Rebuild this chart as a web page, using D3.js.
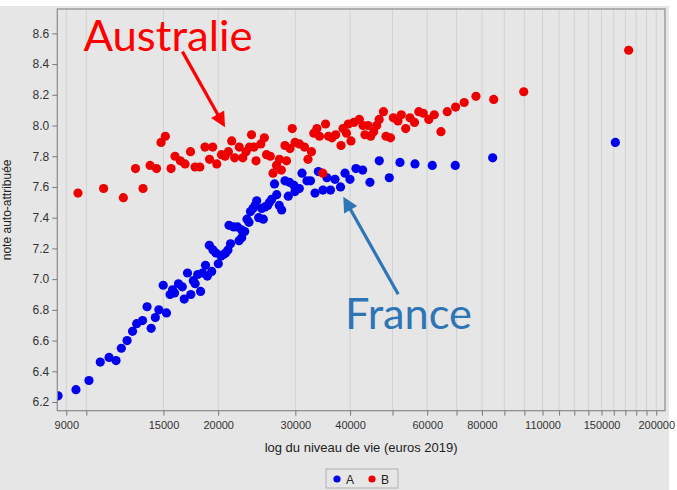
<!DOCTYPE html>
<html><head><meta charset="utf-8">
<script src="https://cdn.jsdelivr.net/npm/d3@7"></script>
<style>body{margin:0;background:#fff}svg{display:block}</style>
</head><body>
<svg id="chart" width="677" height="490"></svg>
<script>
// Series A (France, blue): [income (euros 2019), self-rated score]
const seriesA = [[8620,6.24],[9470,6.28],[10140,6.34],[10760,6.46],[11270,6.49],[11690,6.47],[12020,6.55],[12390,6.60],[12750,6.66],[13030,6.71],[13440,6.73],[13760,6.82],[14060,6.68],[14370,6.75],[14640,6.80],[14980,6.96],[15240,6.78],[15530,6.90],[15730,6.93],[15900,6.91],[16230,6.97],[16560,6.95],[16730,6.87],[17020,7.04],[17320,6.90],[17550,6.99],[17720,6.97],[17960,7.03],[18230,6.92],[18420,7.04],[18710,7.09],[18890,7.02],[19330,7.05],[19090,7.22],[19460,7.19],[19770,7.17],[20010,7.10],[20300,7.15],[20570,7.16],[20780,7.17],[21050,7.19],[21170,7.35],[21340,7.23],[21700,7.34],[22140,7.34],[22310,7.25],[22630,7.27],[22630,7.32],[22990,7.31],[23270,7.39],[23510,7.37],[23700,7.44],[24010,7.46],[24270,7.48],[24490,7.51],[24740,7.40],[25140,7.46],[25350,7.39],[25580,7.47],[25940,7.48],[26190,7.50],[26500,7.52],[26890,7.62],[27200,7.55],[27570,7.48],[27920,7.45],[28410,7.64],[28910,7.54],[29090,7.63],[29790,7.61],[29950,7.57],[30630,7.59],[31070,7.69],[31890,7.64],[32490,7.64],[33270,7.56],[33850,7.70],[34690,7.58],[35430,7.66],[36090,7.58],[36950,7.65],[38040,7.60],[38950,7.69],[39980,7.65],[41260,7.72],[42740,7.71],[44410,7.63],[46640,7.77],[49160,7.66],[52000,7.76],[56260,7.75],[61620,7.74],[69540,7.74],[84640,7.79],[161300,7.89]];
// Series B (Australie, red)
const seriesB = [[9570,7.56],[10950,7.59],[12150,7.53],[12950,7.72],[13470,7.59],[13980,7.74],[14460,7.72],[14810,7.89],[15150,7.93],[15610,7.72],[15940,7.80],[16390,7.77],[16800,7.75],[17290,7.83],[17710,7.73],[18160,7.73],[18660,7.86],[19110,7.78],[19430,7.86],[19850,7.75],[20350,7.81],[20730,7.80],[21100,7.83],[21470,7.90],[21810,7.79],[22340,7.86],[22760,7.79],[23150,7.83],[23580,7.86],[23830,7.94],[24140,7.86],[24400,7.77],[25020,7.88],[25490,7.92],[25780,7.81],[26300,7.80],[26680,7.69],[27170,7.74],[27600,7.78],[27870,7.71],[28410,7.87],[28640,7.77],[29170,7.85],[29520,7.98],[29950,7.89],[30660,7.88],[31480,7.86],[32060,7.78],[32660,7.83],[33060,7.95],[33610,7.98],[34060,7.93],[34660,7.69],[35160,8.01],[35710,7.93],[36370,7.92],[37090,7.94],[38140,7.87],[38540,7.98],[39250,7.95],[39630,8.01],[40190,7.90],[40790,8.02],[41990,8.04],[42810,8.00],[43260,7.94],[43950,8.00],[44580,7.93],[45290,7.96],[46010,8.00],[46610,8.04],[47680,8.09],[48310,7.93],[49470,7.92],[50210,8.05],[51460,8.03],[52360,8.07],[53580,7.98],[54800,8.05],[56120,8.02],[57400,8.09],[58780,8.08],[60500,8.04],[62270,8.07],[64500,7.96],[66670,8.09],[69660,8.12],[72870,8.15],[77530,8.19],[85090,8.17],[99660,8.22],[173000,8.49]];

const xTickValues = [9000,10000,15000,20000,30000,40000,50000,60000,70000,80000,90000,100000,110000,120000,130000,140000,150000,160000,170000,180000,190000,200000];
const xTickLabels = [9000,15000,20000,30000,40000,60000,80000,110000,150000,200000];
const yTickValues = [6.2,6.4,6.6,6.8,7.0,7.2,7.4,7.6,7.8,8.0,8.2,8.4,8.6];
const seriesNames = ["A","B"];
const seriesColors = ["#0000ee","#ee0000"];
const xTitle = "log du niveau de vie (euros 2019)";
const yTitle = "note auto-attribuée";
// annotations in data coordinates: label anchor and arrow (from -> tip)
const annLabels = [
  {text:"Australie", x:9854, y:8.487, color:"#ff0000", width:169},
  {text:"France", x:38950, y:6.673, color:"#2e75b6", width:127}
];
const annArrows = [
  {from:[16571,8.481], to:[20729,7.988], color:"#ff0000"},
  {from:[51522,6.901], to:[38600,7.537], color:"#2e75b6"}
];

const svg = d3.select("#chart");
const plot = {left:57.3, right:665, top:9, bottom:410.7};
const x = d3.scaleLog().domain([8585,209400]).range([plot.left, plot.right]);
const y = d3.scaleLinear().domain([6.1434,8.7586]).range([plot.bottom, plot.top]);
const font = "'Liberation Sans', Arial, sans-serif";

svg.append("rect").attr("x",0).attr("y",6).attr("width",669).attr("height",484).attr("fill","#e6e6e6");

// gridlines
svg.append("g").selectAll("line").data(xTickValues).join("line")
  .attr("x1",d=>x(d)).attr("x2",d=>x(d)).attr("y1",plot.top).attr("y2",plot.bottom)
  .attr("stroke","#d2d2d2").attr("stroke-width",1);

// clip
svg.append("clipPath").attr("id","clip").append("rect")
  .attr("x",plot.left).attr("y",plot.top).attr("width",plot.right-plot.left).attr("height",plot.bottom-plot.top);

const pts = svg.append("g").attr("clip-path","url(#clip)");
[seriesA, seriesB].forEach((s,i)=>{
  pts.append("g").selectAll("circle").data(s).join("circle")
    .attr("cx",d=>x(d[0])).attr("cy",d=>y(d[1])).attr("r",4.6)
    .attr("fill",seriesColors[i]);
});

// frame
svg.append("rect").attr("x",plot.left).attr("y",plot.top)
  .attr("width",plot.right-plot.left).attr("height",plot.bottom-plot.top)
  .attr("fill","none").attr("stroke","#8a8a8a").attr("stroke-width",1.2);

// axes
const xAxis = svg.append("g").attr("transform",`translate(0,${plot.bottom})`)
  .call(d3.axisBottom(x).tickValues(xTickValues).tickSize(5).tickSizeOuter(0)
    .tickFormat(d=>xTickLabels.includes(d)?String(d):""));
const yAxis = svg.append("g").attr("transform",`translate(${plot.left},0)`)
  .call(d3.axisLeft(y).tickValues(yTickValues).tickSize(5).tickSizeOuter(0)
    .tickFormat(d3.format(".1f")));
[xAxis,yAxis].forEach(g=>{
  g.select(".domain").remove();
  g.selectAll(".tick line").attr("stroke","#7a7a7a");
  g.selectAll(".tick text").attr("fill","#333").style("font-family",font);
});
xAxis.selectAll(".tick text").style("font-size","11px").attr("dy","0.95em");
yAxis.selectAll(".tick text").style("font-size","12px");

svg.append("text").attr("x",(plot.left+plot.right)/2).attr("y",452)
  .attr("text-anchor","middle").style("font-family",font).style("font-size","13px")
  .attr("fill","#222").text(xTitle);
svg.append("text").attr("transform",`translate(11,${(plot.top+plot.bottom)/2}) rotate(-90)`)
  .attr("text-anchor","middle").style("font-family",font).style("font-size","12px")
  .attr("fill","#222").text(yTitle);

// annotations
const defs = svg.append("defs");
annArrows.forEach((a,i)=>{
  const x1=x(a.from[0]), y1=y(a.from[1]), x2=x(a.to[0]), y2=y(a.to[1]);
  const ang=Math.atan2(y2-y1,x2-x1), L=15, Wd=7.5;
  const bx=x2-L*Math.cos(ang), by=y2-L*Math.sin(ang);
  svg.append("line").attr("x1",x1).attr("y1",y1).attr("x2",bx+2*Math.cos(ang)).attr("y2",by+2*Math.sin(ang))
    .attr("stroke",a.color).attr("stroke-width",3.2);
  const px=-Math.sin(ang), py=Math.cos(ang);
  svg.append("polygon").attr("points",[[x2,y2],[bx+px*Wd,by+py*Wd],[bx-px*Wd,by-py*Wd]].map(p=>p.join(",")).join(" "))
    .attr("fill",a.color);
});
annLabels.forEach(l=>{
  svg.append("text").attr("x",x(l.x)).attr("y",y(l.y))
    .style("font-family","Lato, 'Open Sans', sans-serif").style("font-size","42px")
    .attr("textLength",l.width).attr("lengthAdjust","spacingAndGlyphs")
    .attr("fill",l.color).text(l.text);
});

// legend
const lg = svg.append("g");
lg.append("rect").attr("x",326).attr("y",469).attr("width",72).attr("height",19)
  .attr("fill","#e6e6e6").attr("stroke","#b0b0b0");
seriesNames.forEach((n,i)=>{
  const cx = 337 + i*35;
  lg.append("circle").attr("cx",cx).attr("cy",479).attr("r",3.6).attr("fill",seriesColors[i]);
  lg.append("text").attr("x",cx+9).attr("y",483.5).style("font-family",font).style("font-size","12px")
    .attr("fill","#222").text(n);
});
</script>
</body></html>
